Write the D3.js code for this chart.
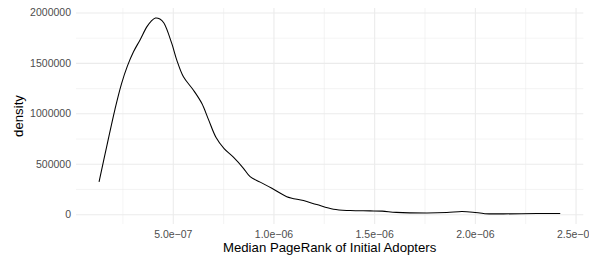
<!DOCTYPE html>
<html>
<head>
<meta charset="utf-8">
<script src="https://cdn.jsdelivr.net/npm/d3@7/dist/d3.min.js"></script>
<style>
  body { margin: 0; background: #fff; }
  svg { display: block; font-family: "Liberation Sans", Arial, Helvetica, sans-serif; }
</style>
</head>
<body>
<svg id="chart"></svg>
<script>
// median pagerank (x) and estimated density (y)
const pageRank = [1.34e-7, 1.74e-7, 2.13e-7, 2.45e-7, 2.75e-7, 3.05e-7, 3.375e-7, 3.71e-7, 3.92e-7, 4.14e-7, 4.36e-7,
  4.56e-7, 4.95e-7, 5.20e-7, 5.53e-7, 6.02e-7, 6.44e-7, 6.77e-7, 7.15e-7, 7.55e-7, 8.01e-7, 8.51e-7,
  8.84e-7, 9.34e-7, 9.92e-7, 1.066e-6, 1.149e-6, 1.215e-6, 1.298e-6, 1.381e-6, 1.48e-6,
  1.540e-6, 1.610e-6, 1.762e-6, 1.861e-6, 1.935e-6, 1.990e-6, 2.050e-6, 2.142e-6, 2.308e-6, 2.424e-6];
const density = [320000, 690000, 1040000, 1290000, 1470000, 1610000, 1728000, 1857000, 1912000, 1945000, 1935000,
  1895000, 1693000, 1528000, 1362000, 1231000, 1099000, 940000, 760000, 650000, 565000, 455000,
  372000, 318000, 257000, 174000, 135000, 95000, 48000, 36000, 33000,
  30000, 18000, 12000, 16000, 26000, 20000, 5000, 3000, 6000, 6000];

const xMajor = [5e-7, 1e-6, 1.5e-6, 2e-6, 2.5e-6];
const xMinor = [2.5e-7, 7.5e-7, 1.25e-6, 1.75e-6, 2.25e-6];
const yMajor = [0, 500000, 1000000, 1500000, 2000000];
const yMinor = [250000, 750000, 1250000, 1750000];

const width = 598, height = 261;
const margin = { top: 8, right: 14.7, bottom: 37, left: 76 };
const pw = width - margin.left - margin.right;
const ph = height - margin.top - margin.bottom;

const svg = d3.select('#chart').attr('width', width).attr('height', height);

// ggplot style 5% expansion
const xExt = d3.extent(pageRank);
const xPad = (xExt[1] - xExt[0]) * 0.05;
const x = d3.scaleLinear().domain([xExt[0] - xPad, xExt[1] + xPad]).range([0, pw]);
const yExt = [0, 1947000];
const yPad = (yExt[1] - yExt[0]) * 0.05;
const y = d3.scaleLinear().domain([yExt[0] - yPad, yExt[1] + yPad]).range([ph, 0]);

const g = svg.append('g').attr('transform', 'translate(' + margin.left + ',' + margin.top + ')');

// grid lines
function grid(axis, cls, w) {
  const gg = g.append('g').attr('class', cls).call(axis);
  gg.select('.domain').remove();
  gg.selectAll('line').attr('stroke', '#ebebeb').attr('stroke-width', w);
  gg.selectAll('text').remove();
  return gg;
}
grid(d3.axisBottom(x).tickValues(xMinor).tickSize(-ph), 'xminor', 0.53).attr('transform', 'translate(0,' + ph + ')');
grid(d3.axisLeft(y).tickValues(yMinor).tickSize(-pw), 'yminor', 0.53);
grid(d3.axisBottom(x).tickValues(xMajor).tickSize(-ph), 'xmajor', 1.07).attr('transform', 'translate(0,' + ph + ')');
grid(d3.axisLeft(y).tickValues(yMajor).tickSize(-pw), 'ymajor', 1.07);

// density curve
const line = d3.line()
  .x((d, i) => x(pageRank[i]))
  .y(d => y(d))
  .curve(d3.curveCatmullRom.alpha(0.5));

g.append('path')
  .datum(density)
  .attr('fill', 'none')
  .attr('stroke', '#000')
  .attr('stroke-width', 1.07)
  .attr('d', line);

// tick labels
const sciFmt = d => {
  const parts = d.toExponential(1).split('e');
  const exp = parseInt(parts[1], 10);
  const sign = exp < 0 ? '\u2212' : '+';
  return parts[0] + 'e' + sign + String(Math.abs(exp)).padStart(2, '0');
};

svg.append('defs').append('clipPath').attr('id', 'clipx')
  .append('rect').attr('x', -margin.left).attr('y', 0).attr('width', 589).attr('height', 40);

const xAxis = g.append('g')
  .attr('transform', 'translate(0,' + ph + ')')
  .attr('clip-path', 'url(#clipx)')
  .call(d3.axisBottom(x).tickValues(xMajor).tickSize(0).tickPadding(7).tickFormat(sciFmt));
xAxis.select('.domain').remove();
xAxis.selectAll('text').attr('fill', '#4d4d4d').attr('font-size', '10.5px').attr('font-family', null);

const yAxis = g.append('g')
  .call(d3.axisLeft(y).tickValues(yMajor).tickSize(0).tickPadding(5).tickFormat(d3.format('d')));
yAxis.select('.domain').remove();
yAxis.selectAll('text').attr('fill', '#4d4d4d').attr('font-size', '10.5px').attr('font-family', null);

// axis titles
svg.append('text')
  .attr('x', margin.left + pw / 2)
  .attr('y', 251.5)
  .attr('text-anchor', 'middle')
  .attr('font-size', '13.2px')
  .attr('fill', '#000')
  .text('Median PageRank of Initial Adopters');

svg.append('text')
  .attr('transform', 'translate(23,' + (margin.top + ph / 2) + ') rotate(-90)')
  .attr('text-anchor', 'middle')
  .attr('font-size', '13.2px')
  .attr('fill', '#000')
  .text('density');
</script>
</body>
</html>
